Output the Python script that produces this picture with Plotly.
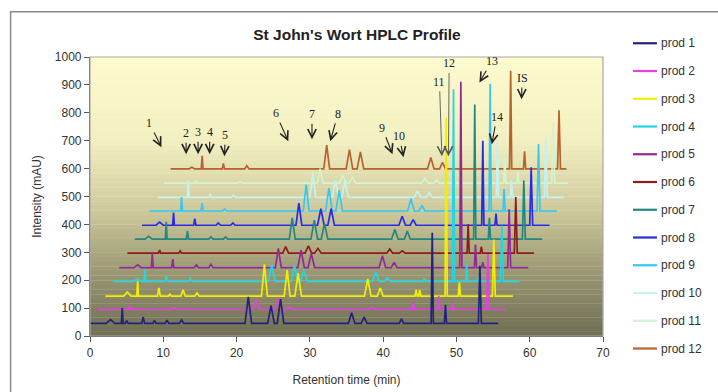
import plotly.graph_objects as go

# ---------------- data ----------------
products = ["prod 1", "prod 2", "prod 3", "prod 4", "prod 5", "prod 6",
            "prod 7", "prod 8", "prod 9", "prod 10", "prod 11", "prod 12"]
colors = ["#23237d", "#e83ee8", "#f2ee00", "#22d6e2", "#922a92", "#8e1c1c",
          "#23877f", "#2a2ae0", "#35c8f2", "#c6f2ee", "#d2f4cf", "#b7622f"]

start_min = [0.0, 1.1, 2.1, 3.2, 4.0, 5.1, 6.1, 7.1, 8.1, 9.2, 10.1, 11.0]
end_min = [55.7, 56.8, 57.7, 58.6, 59.8, 60.6, 61.7, 62.7, 63.7, 64.7, 65.2, 65.0]
baseline = [45, 95, 143, 196, 245, 297, 347, 397, 448, 497, 548, 599]

# peaks: retention time (min), apex intensity (mAU), half width (min)
p1_t = [2.8, 4.4, 5.0, 7.25, 8.8, 10.5, 12.5, 21.6, 24.7, 26.0, 35.7, 37.4, 42.5, 46.7, 48.5, 53.2]
p1_y = [59, 100, 55, 68, 56, 57, 58, 140, 109, 132, 83, 68, 61, 370, 112, 252]
p1_w = [0.6, 0.12, 0.2, 0.2, 0.2, 0.25, 0.3, 0.45, 0.45, 0.45, 0.45, 0.4, 0.3, 0.15, 0.15, 0.2]

p2_t = [5.4, 11.6, 22.7, 25.7, 27.1, 38.5, 44.1, 47.6, 49.5, 54.3]
p2_y = [108, 102, 130, 133, 104, 102, 120, 144, 120, 294]
p2_w = [0.2, 0.3, 0.45, 0.5, 0.4, 0.4, 0.15, 0.12, 0.12, 0.18]

p3_t = [5.1, 6.5, 9.4, 10.9, 12.7, 14.6, 23.8, 26.9, 28.4, 37.9, 39.6, 44.5, 45.0, 48.6, 50.4, 55.1]
p3_y = [158, 198, 172, 150, 166, 155, 257, 237, 225, 205, 172, 166, 165, 783, 192, 346]
p3_w = [0.5, 0.12, 0.2, 0.2, 0.3, 0.3, 0.4, 0.4, 0.45, 0.45, 0.4, 0.15, 0.15, 0.15, 0.15, 0.2]

p4_t = [6.5, 7.5, 10.4, 13.7, 24.8, 27.9, 29.2, 39.0, 40.6, 45.6, 49.6, 51.4, 53.0, 56.2]
p4_y = [205, 239, 215, 207, 255, 255, 237, 229, 209, 208, 884, 261, 213, 395]
p4_w = [0.5, 0.12, 0.2, 0.25, 0.45, 0.45, 0.45, 0.45, 0.4, 0.2, 0.15, 0.15, 0.15, 0.2]

p5_t = [6.5, 8.5, 11.3, 14.5, 16.5, 25.7, 28.8, 30.2, 39.9, 41.5, 50.6, 52.6, 53.6, 57.2]
p5_y = [255, 296, 276, 255, 257, 314, 308, 296, 288, 264, 911, 328, 265, 454]
p5_w = [0.5, 0.12, 0.15, 0.3, 0.3, 0.4, 0.45, 0.45, 0.45, 0.4, 0.15, 0.15, 0.15, 0.2]

p6_t = [9.5, 12.3, 26.7, 29.8, 31.1, 40.9, 42.6, 51.6, 53.4, 58.1]
p6_y = [308, 305, 320, 323, 314, 312, 305, 400, 320, 498]
p6_w = [0.15, 0.2, 0.4, 0.45, 0.45, 0.4, 0.4, 0.15, 0.15, 0.2]

p7_t = [8.0, 10.4, 13.3, 16.5, 18.5, 27.6, 30.6, 32.0, 41.6, 43.3, 52.5, 54.5, 59.2]
p7_y = [357, 409, 376, 355, 355, 423, 415, 403, 382, 376, 830, 424, 557]
p7_w = [0.5, 0.12, 0.15, 0.3, 0.3, 0.4, 0.45, 0.45, 0.45, 0.4, 0.15, 0.15, 0.2]

p8_t = [9.5, 11.4, 14.3, 17.5, 19.5, 28.5, 31.5, 32.9, 42.6, 44.1, 53.6, 55.4, 60.2]
p8_y = [408, 442, 421, 405, 405, 476, 456, 456, 429, 417, 700, 439, 605]
p8_w = [0.5, 0.12, 0.15, 0.3, 0.3, 0.4, 0.45, 0.45, 0.45, 0.4, 0.15, 0.15, 0.2]

p9_t = [12.5, 15.3, 18.4, 29.5, 32.6, 34.0, 43.8, 45.3, 54.6, 56.5, 61.2]
p9_y = [498, 476, 455, 543, 530, 522, 492, 468, 904, 528, 688]
p9_w = [0.12, 0.15, 0.3, 0.4, 0.45, 0.45, 0.45, 0.4, 0.15, 0.15, 0.2]

p10_t = [13.4, 16.4, 19.6, 30.4, 33.5, 34.8, 44.7, 46.3, 55.6, 57.5, 62.2]
p10_y = [558, 510, 505, 587, 557, 555, 520, 515, 702, 560, 711]
p10_w = [0.12, 0.15, 0.3, 0.4, 0.45, 0.45, 0.45, 0.4, 0.15, 0.15, 0.2]

p11_t = [14.4, 20.5, 31.4, 34.5, 35.8, 45.7, 47.3, 56.6, 58.4, 63.2]
p11_y = [558, 553, 600, 575, 570, 565, 560, 640, 590, 765]
p11_w = [0.15, 0.3, 0.4, 0.45, 0.45, 0.45, 0.4, 0.15, 0.15, 0.2]

p12_t = [13.9, 15.3, 18.2, 21.4, 32.3, 35.4, 36.9, 46.5, 48.1, 57.4, 59.3, 64.0]
p12_y = [605, 646, 619, 610, 684, 668, 660, 640, 622, 951, 662, 809]
p12_w = [0.4, 0.12, 0.15, 0.3, 0.4, 0.45, 0.45, 0.45, 0.4, 0.15, 0.15, 0.2]

peak_t = [p1_t, p2_t, p3_t, p4_t, p5_t, p6_t, p7_t, p8_t, p9_t, p10_t, p11_t, p12_t]
peak_y = [p1_y, p2_y, p3_y, p4_y, p5_y, p6_y, p7_y, p8_y, p9_y, p10_y, p11_y, p12_y]
peak_w = [p1_w, p2_w, p3_w, p4_w, p5_w, p6_w, p7_w, p8_w, p9_w, p10_w, p11_w, p12_w]

# ---------------- figure ----------------
L, R, T, B = 89.5, 603.0, 56.5, 336.5
W, H = 718, 392


def px_to_data(px, py):
    return (px - L) / (R - L) * 70.0, (B - py) / (B - T) * 1000.0


def pxx(px):
    return (px - L) / (R - L)


def pxy(py):
    return (B - py) / (B - T)


fig = go.Figure()

for k in reversed(range(len(products))):
    b = baseline[k]
    xs, ys = [start_min[k]], [b]
    for t, y, w in zip(peak_t[k], peak_y[k], peak_w[k]):
        xs += [t - w, t, t + w]
        ys += [b, y, b]
    xs.append(end_min[k])
    ys.append(b)
    fig.add_trace(go.Scatter(
        x=xs, y=ys, mode="lines", name=products[k],
        line=dict(color=colors[k], width=1.7),
        showlegend=False, hoverinfo="skip"))

# gradient background of the plot area (style only)
stops = [(0.0, (253, 251, 206)), (0.3, (242, 239, 192)), (0.55, (205, 201, 156)),
         (0.8, (148, 146, 110)), (1.0, (112, 110, 84))]
N = 60
shapes = []
for i in range(N):
    f0 = i / N
    fm = (i + 0.5) / N
    for j in range(len(stops) - 1):
        if stops[j][0] <= fm <= stops[j + 1][0]:
            a = (fm - stops[j][0]) / (stops[j + 1][0] - stops[j][0])
            c = [round(stops[j][1][m] + a * (stops[j + 1][1][m] - stops[j][1][m])) for m in range(3)]
            break
    shapes.append(dict(type="rect", xref="paper", yref="paper", x0=0, x1=1,
                       y0=1 - (i + 1) / N - 0.001, y1=1 - f0,
                       fillcolor="rgb(%d,%d,%d)" % tuple(c), line=dict(width=0), layer="below"))
# plot-area frame and outer chart frame
shapes.append(dict(type="rect", xref="paper", yref="paper", x0=0, x1=1, y0=0, y1=1,
                   line=dict(color="#a8a8a8", width=1.2), fillcolor="rgba(0,0,0,0)", layer="above"))
shapes.append(dict(type="rect", xref="paper", yref="paper",
                   x0=pxx(10), x1=pxx(730), y0=pxy(400), y1=pxy(11),
                   line=dict(color="#8a8a8a", width=1.5), fillcolor="rgba(0,0,0,0)", layer="above"))

annotations = []
# legend (drawn as lines + text, one row per product)
for k, name in enumerate(products):
    yy = pxy(42.7 + 27.85 * k)
    shapes.append(dict(type="line", xref="paper", yref="paper", x0=pxx(633), x1=pxx(657),
                       y0=yy, y1=yy, line=dict(color=colors[k], width=2.2)))
    annotations.append(dict(x=pxx(659), y=yy, xref="paper", yref="paper", text=name,
                            showarrow=False, xanchor="left", yanchor="middle",
                            font=dict(family="Liberation Sans", size=12, color="#333333")))

# peak labels with arrows: (label, label px, label py, tip px, tip py)
marks = [("1", 149, 123, 161, 147), ("2", 185.7, 133, 185.7, 154), ("3", 197.7, 132, 197.7, 154),
         ("4", 209.3, 132, 209.3, 154), ("5", 225, 135, 224, 156), ("6", 275.3, 113, 288, 141),
         ("7", 311.7, 114, 311.7, 139), ("8", 337.7, 113.7, 330, 141), ("9", 382, 127.7, 392.3, 154),
         ("10", 399, 136.3, 403.3, 157), ("11", 439.3, 81.7, 441.7, 156), ("12", 449, 63.3, 448.3, 156),
         ("13", 491.7, 61, 479.3, 82), ("14", 496.7, 116.7, 491.7, 144), ("IS", 522, 77.7, 521.5, 99)]
for lab, lx, ly, tx, ty in marks:
    xd, yd = px_to_data(tx, ty)
    long_line = lab in ("11", "12")
    annotations.append(dict(x=xd, y=yd, xref="x", yref="y", text=lab, showarrow=True,
                            ax=lx - tx, ay=ly - ty, axref="pixel", ayref="pixel",
                            arrowhead=5, arrowsize=1.5 if not long_line else 1.8,
                            arrowwidth=1.1 if not long_line else 0.9,
                            arrowcolor="#222222" if not long_line else "#555555",
                            standoff=0, startstandoff=1,
                            font=dict(family="Liberation Serif", size=12, color="#222222")))

fig.update_layout(
    width=W, height=H, showlegend=False,
    margin=dict(l=L, r=W - R, t=T, b=H - B, pad=0, autoexpand=False),
    paper_bgcolor="white", plot_bgcolor="rgba(0,0,0,0)",
    title=dict(text="<b>St John's Wort HPLC Profile</b>", x=357 / W, xanchor="center",
               y=1 - 35 / H, yanchor="middle", yref="container",
               font=dict(family="Liberation Sans", size=15.5, color="#222222")),
    xaxis=dict(range=[0, 70], dtick=10, showgrid=False, zeroline=False, showline=True,
               linecolor="#555555", linewidth=1.2, ticks="outside", ticklen=5, tickcolor="#555555",
               tickfont=dict(family="Liberation Sans", size=12, color="#333333"),
               title=dict(text="Retention time (min)", standoff=17,
                          font=dict(family="Liberation Sans", size=12, color="#333333"))),
    yaxis=dict(range=[0, 1000], dtick=100, showgrid=False, zeroline=False, showline=True,
               linecolor="#555555", linewidth=1.2, ticks="outside", ticklen=5, tickcolor="#555555",
               tickfont=dict(family="Liberation Sans", size=12, color="#333333"),
               title=dict(text="Intensity (mAU)", standoff=10,
                          font=dict(family="Liberation Sans", size=12, color="#333333"))),
    shapes=shapes, annotations=annotations,
)

fig.write_html("out.html", config={"displayModeBar": False},
               post_script="document.body.style.margin='0px';")
